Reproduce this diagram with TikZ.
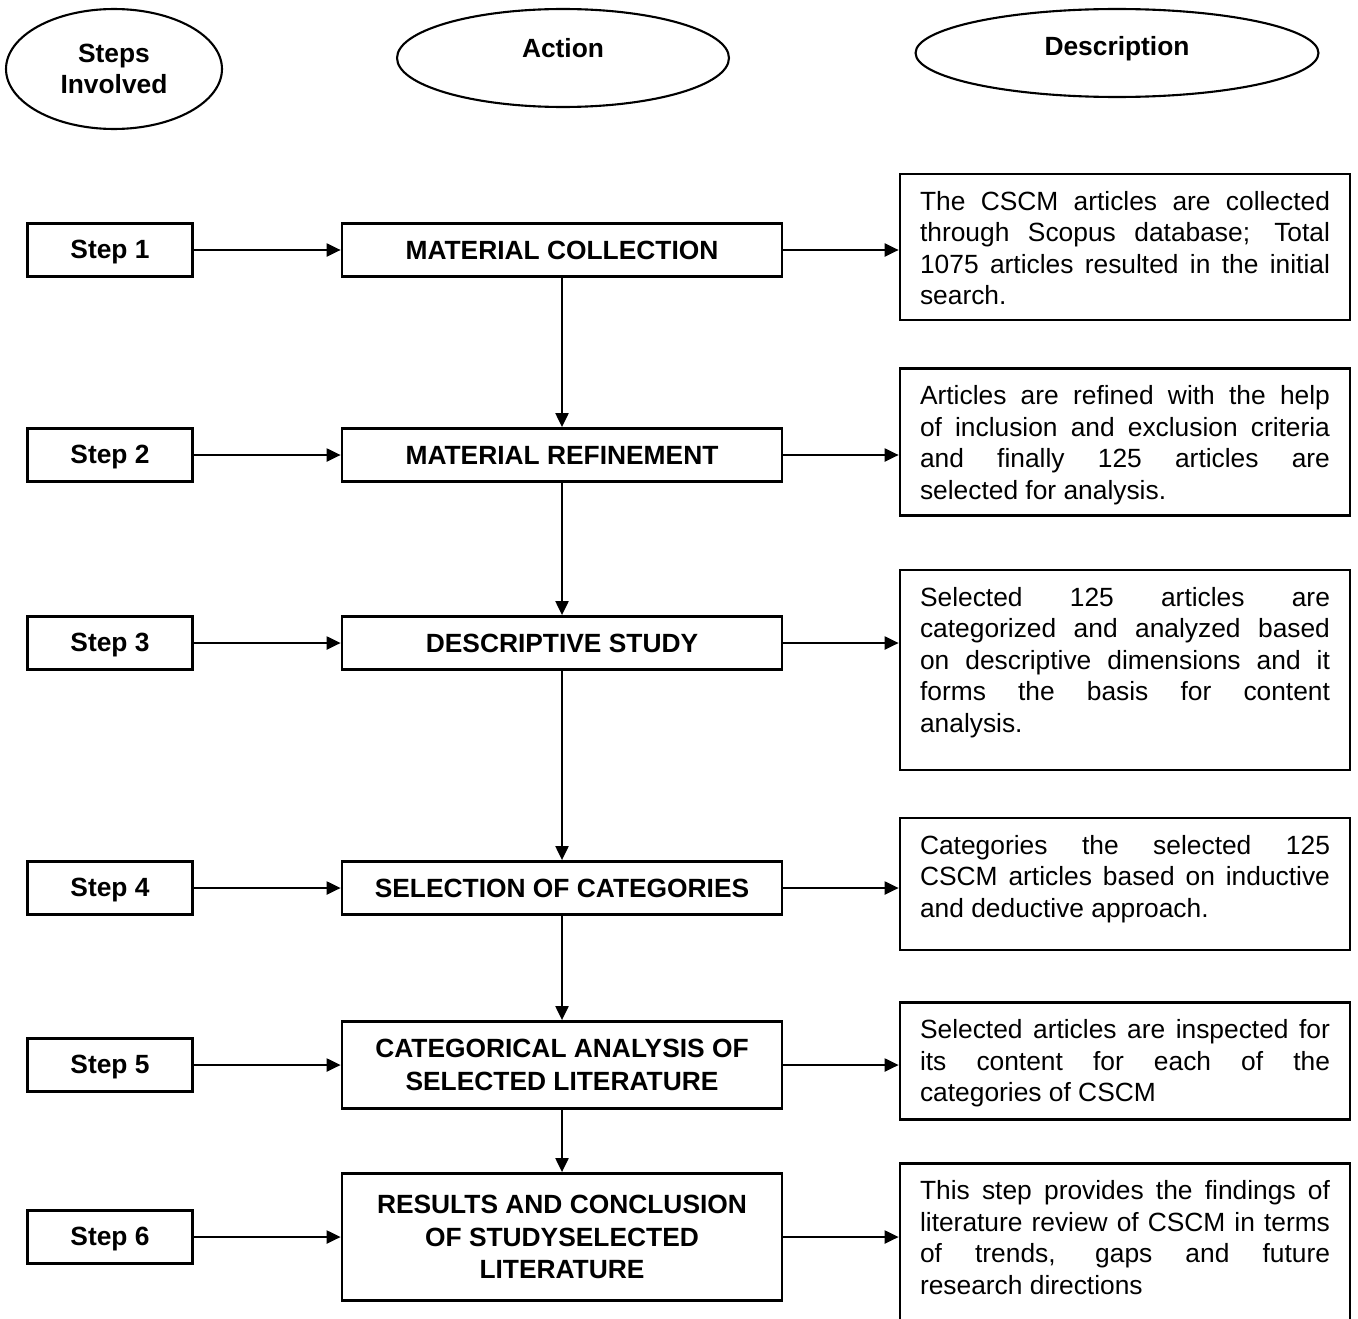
\documentclass[tikz,border=0pt]{standalone}
\usepackage{fontspec}
\setmainfont{Liberation Sans}
\usepackage{tikz}
\usetikzlibrary{arrows.meta,positioning,shapes.geometric}

% justified description text, top aligned in a box of fixed height
\newcommand{\desctext}[2]{\parbox[c][#1][t]{8.2cm}{\tolerance=10000\hyphenpenalty=10000\fontsize{15}{18}\selectfont #2}}

\begin{document}
\begin{tikzpicture}[
    x=0.02cm, y=-0.02cm,
    headell/.style={draw, ellipse, line width=1.2pt, inner sep=0pt, align=center, font=\fontsize{15}{18}\selectfont\bfseries},
    stepbox/.style={draw, line width=1.6pt, minimum width=3.3cm, minimum height=1.06cm, text height=0.92em, text depth=0pt, font=\fontsize{15}{18}\selectfont\bfseries},
    actbox/.style={draw, line width=1.6pt, minimum width=8.8cm, minimum height=1.06cm, align=center, font=\fontsize{15}{18.5}\selectfont\bfseries},
    descbox/.style={draw, line width=1.6pt, inner xsep=0.4cm, inner ysep=0.34cm},
    arr/.style={->, line width=1.2pt},
    >={Triangle[length=0.28cm, width=0.26cm]}
]
\clip (0,0) rectangle (1358,1318);

% column heads
\node[headell, minimum width=4.32cm, minimum height=2.4cm] (hstep) at (114,69) {Steps\\Involved};
\node[headell, minimum width=6.64cm, minimum height=1.96cm, text depth=0.4cm] (hact) at (563,58) {Action};
\node[headell, minimum width=8.06cm, minimum height=1.76cm, text depth=0.27cm] (hdesc) at (1117,53) {Description};

% steps
\node[stepbox] (step1) at (110,250) {Step 1};
\node[stepbox] (step2) at (110,455) {Step 2};
\node[stepbox] (step3) at (110,643) {Step 3};
\node[stepbox] (step4) at (110,888) {Step 4};
\node[stepbox] (step5) at (110,1065) {Step 5};
\node[stepbox] (step6) at (110,1237) {Step 6};

% actions
\node[actbox] (act1) at (562,250) {MATERIAL COLLECTION};
\node[actbox] (act2) at (562,455) {MATERIAL REFINEMENT};
\node[actbox] (act3) at (562,643) {DESCRIPTIVE STUDY};
\node[actbox] (act4) at (562,888) {SELECTION OF CATEGORIES};
\node[actbox, minimum height=1.74cm] (act5) at (562,1065) {CATEGORICAL ANALYSIS OF\\SELECTED LITERATURE};
\node[actbox, minimum height=2.54cm] (act6) at (562,1237) {RESULTS AND CONCLUSION\\OF STUDYSELECTED\\LITERATURE};

% descriptions
\node[descbox] (desc1) at (1125,247) {\desctext{2.24cm}{The CSCM articles are collected\linebreak through Scopus database; Total\linebreak 1075 articles resulted in the initial\linebreak search.}};
\node[descbox] (desc2) at (1125,442) {\desctext{2.26cm}{Articles are refined with the help\linebreak of inclusion and exclusion criteria\linebreak and finally 125 articles are\linebreak selected for analysis.}};
\node[descbox] (desc3) at (1125,670) {\desctext{3.32cm}{Selected 125 articles are\linebreak categorized and analyzed based\linebreak on descriptive dimensions and it\linebreak forms the basis for content\linebreak analysis.}};
\node[descbox] (desc4) at (1125,884) {\desctext{1.96cm}{Categories the selected 125\linebreak CSCM articles based on inductive\linebreak and deductive approach.}};
\node[descbox] (desc5) at (1125,1061) {\desctext{1.66cm}{Selected articles are inspected for\linebreak its content for each of the\linebreak categories of CSCM}};
\node[descbox] (desc6) at (1125,1252) {\desctext{2.86cm}{This step provides the findings of\linebreak literature review of CSCM in terms\linebreak of trends, gaps and future\linebreak research directions}};

% connectors
\foreach \i in {1,...,6} {
    \draw[arr] (step\i) -- (act\i);
    \draw[arr] (act\i.east) -- (act\i.east -| desc\i.west);
}
\foreach \i/\j in {1/2,2/3,3/4,4/5,5/6}
    \draw[arr] (act\i) -- (act\j);

\end{tikzpicture}
\end{document}
